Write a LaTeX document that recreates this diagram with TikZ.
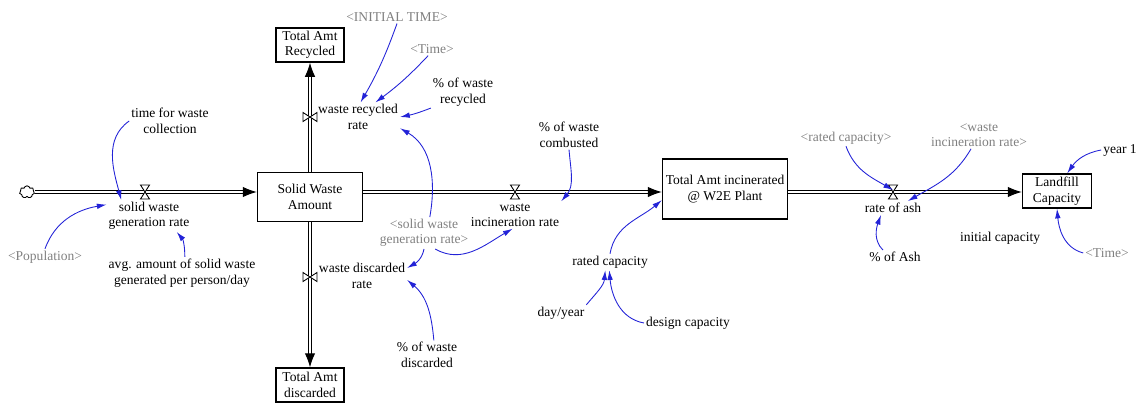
\documentclass[tikz,border=0pt]{standalone}
\usepackage{fontspec}
\setmainfont{Liberation Serif}
\usepackage{tikz}
\usetikzlibrary{arrows.meta}
\usetikzlibrary{shapes.symbols}
\definecolor{linkblue}{RGB}{35,35,215}
\newcommand\varfont{\fontsize{7.7}{8.8}\selectfont}

\begin{document}
\begin{tikzpicture}[x=0.02cm, y=-0.02cm,
  var/.style={align=center, inner sep=1pt, font=\varfont},
  shadowvar/.style={var, text=black!50},
  stock/.style={rectangle, draw=black, line width=0.8pt, fill=white, align=center, font=\varfont, inner sep=1pt},
  pipe/.style={draw=black, line width=0.6pt, double=white, double distance=1.4pt, -{Latex[length=8pt,width=6pt]}},
  link/.style={draw=linkblue, line width=0.5pt, -{Latex[length=5.5pt,width=3.2pt]}},
  valve/.pic={\draw[black, fill=white, line width=0.5pt] (-4.5,-7) -- (4.5,-7) -- (-4.5,7) -- (4.5,7) -- cycle;}]

\useasboundingbox (0,0) rectangle (1139,403);

\node at (27,192) [cloud, draw, cloud puffs=7, minimum width=8.5pt, minimum height=7pt, inner sep=0pt, line width=0.5pt] (src) {};

\node at (310,197) [stock, minimum width=2.1cm, minimum height=0.98cm] (swa) {Solid Waste\\Amount};
\node at (310,45) [stock, minimum width=1.36cm, minimum height=0.68cm] (tar) {Total Amt\\Recycled};
\node at (310,385) [stock, minimum width=1.36cm, minimum height=0.68cm] (tad) {Total Amt\\discarded};
\node at (725,189) [stock, minimum width=2.5cm, minimum height=1.2cm] (tai) {Total Amt incinerated\\@ W2E Plant};
\node at (1057,191) [stock, minimum width=1.38cm, minimum height=0.68cm] (lfc) {Landfill\\Capacity};

\draw[pipe] (src.east) -- (src.east -| swa.west);
\draw[pipe] (swa.north) -- (tar.south);
\draw[pipe] (swa.south) -- (tad.north);
\draw[pipe] (swa.east |- src) -- (src -| tai.west);
\draw[pipe] (tai.east |- src) -- (src -| lfc.west);

\pic at (145,192) {valve};
\pic[rotate=90] at (310,117) {valve};
\pic[rotate=90] at (310,277) {valve};
\pic at (515,192) {valve};
\pic at (893,192) {valve};
\coordinate (ashv) at (893,190);

\node at (170,121) [var] (tfwc) {time for waste\\collection};
\node at (149,216) [var] (sgr) {solid waste\\generation rate};
\node at (45,257) [shadowvar] (pop) {<Population>};
\node at (182,273) [var] (avg) {avg. amount of solid waste\\generated per person/day};
\node at (397,17) [shadowvar] (it) {<INITIAL TIME>};
\node at (432,49) [shadowvar] (tm1) {<Time>};
\node at (463,92) [var] (pwr) {\% of waste\\recycled};
\node at (358,117) [var] (wrr) {waste recycled\\rate};
\node at (424,233) [shadowvar] (swg) {<solid waste\\generation rate>};
\node at (362,276) [var] (wdr) {waste discarded\\rate};
\node at (427,355) [var] (pwd) {\% of waste\\discarded};
\node at (515,215) [var] (wir) {waste\\incineration rate};
\node at (569,135) [var] (pwc) {\% of waste\\combusted};
\node at (610,262) [var] (rcap) {rated capacity};
\node at (561,313) [var] (dy) {day/year};
\node at (688,323) [var] (dc) {design capacity};
\node at (846,138) [shadowvar] (rca2) {<rated capacity>};
\node at (979,135) [shadowvar] (wir2) {<waste\\incineration rate>};
\node at (893,208) [var] (roa) {rate of ash};
\node at (895,257) [var] (pash) {\% of Ash};
\node at (1000,238) [var] (ic) {initial capacity};
\node at (1120,150) [var] (yr1) {year 1};
\node at (1107,253) [shadowvar] (tm2) {<Time>};

\draw[link] (tfwc.west) to[out=215, in=105] (sgr.150);
\draw[link] (pop.north) to[out=70, in=190] (sgr.165);
\draw[link] (avg.80) to[out=90, in=-50] (sgr.-30);
\draw[link] (it.south) to[bend left=5] (wrr.80);
\draw[link] (tm1.-120) to[bend left=5] (wrr.40);
\draw[link] (pwr.south west) to[bend left=5] (wrr.east);
\draw[link] (swg.70) to[out=80, in=-30] (wrr.-15);
\draw[link] (swg.south) to[out=-100, in=30] (wdr.10);
\draw[link] (swg.-55) to[out=-30, in=210] (wir.-100);
\draw[link] (pwd.65) to[out=95, in=-40] (wdr.-5);
\draw[link] (pwc.south) to[out=-85, in=50] (wir.north east);
\draw[link] (rcap.north) to[out=80, in=220] (tai.190);
\draw[link] (dy.north east) to[out=50, in=-95] (rcap.-120);
\draw[link] (dc.west) to[out=170, in=-85] (rcap.-95);
\draw[link] (rca2.south) to[out=-70, in=150] (ashv);
\draw[link] (wir2.-120) to[out=-120, in=30] (roa.25);
\draw[link] (pash.150) to[out=135, in=-110] (roa.-150);
\draw[link] (yr1.west) to[out=190, in=55] (lfc.60);
\draw[link] (tm2.west) to[out=165, in=-85] (lfc.south);

\end{tikzpicture}
\end{document}
